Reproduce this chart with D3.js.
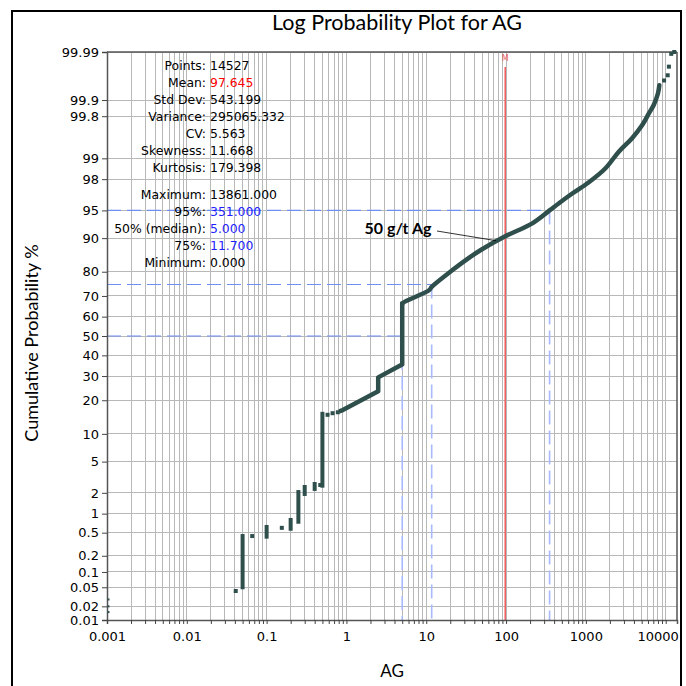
<!DOCTYPE html>
<html><head><meta charset="utf-8">
<script src="https://cdn.jsdelivr.net/npm/d3@7"></script>
<style>
html,body{margin:0;padding:0;background:#fff;}
svg{display:block;}
</style></head>
<body>
<svg id="chart" width="686" height="686"></svg>
<script>
// ---------------- data ----------------
const titleText = "Log Probability Plot for AG";
const xLabel = "AG";
const yLabel = "Cumulative Probability %";
const yTicks = [0.01,0.02,0.05,0.1,0.2,0.5,1,2,5,10,20,30,40,50,60,70,80,90,95,98,99,99.8,99.9,99.99];
const yTickLabels = ["0.01","0.02","0.05","0.1","0.2","0.5","1","2","5","10","20","30","40","50","60","70","80","90","95","98","99","99.8","99.9","99.99"];
const xMajorTicks = [0.001,0.01,0.1,1,10,100,1000,10000];
const xMajorLabels = ["0.001","0.01","0.1","1","10","100","1000","10000"];
const xMax = 13861;

const statLabels = ["Points:","Mean:","Std Dev:","Variance:","CV:","Skewness:","Kurtosis:","Maximum:","95%:","50% (median):","75%:","Minimum:"];
const statValues = ["14527","97.645","543.199","295065.332","5.563","11.668","179.398","13861.000","351.000","5.000","11.700","0.000"];
const statColors = ["#000","#ff0000","#000","#000","#000","#000","#000","#000","#1f1fff","#1f1fff","#1f1fff","#000"];

const meanValue = 97.645;
const percentileValues = [351.0, 5.0, 11.7];
const percentileLevels = [95, 50, 75];

// minimum-value samples plotted at the axis minimum
const minPoints = [[0.001,0.015],[0.001,0.02],[0.001,0.028]];
// isolated samples
const singlePoints = [[0.041,0.042],[0.066,0.44],[0.155,0.6],[0.47,2.55],[0.58,15.1],[0.67,15.6],[0.78,15.9],
  [9550,99.959],[10600,99.968],[10970,99.979],[11740,99.989],[12800,99.99]];
// vertical steps (many samples with identical value)
const stepSegments = [
  [[0.05,0.05],[0.05,0.44]],
  [[0.1,0.43],[0.1,0.62]],
  [[0.2,0.58],[0.2,0.8]],
  [[0.25,0.75],[0.25,2.05]],
  [[0.3,1.93],[0.3,2.4]],
  [[0.4,2.26],[0.4,2.63]],
  [[0.5,2.5],[0.5,15.4]]
];
// continuous part of the distribution (low part, with steps)
const lowCurve = [[0.86,16.4],[0.9,16.6],[2.4,23.2],[2.5,23.5],[2.5,29.4],[4.85,35.2],[5,35.5],[5,66.2]];
// continuous upper tail
const upperCurve = [[5,66.2],[5.1,66.8],[10.9,72.6],[11.7,74],[21.3,80.6],[31.3,84],[50,87.2],[95,90.3],[213,93],
  [351,95],[460,95.9],[675,96.9],[1090,97.8],[1762,98.6],[2585,99.21],[3793,99.52],[5060,99.71],[6130,99.82],
  [7080,99.876],[8010,99.926],[8320,99.949]];

const annotationText = "50 g/t Ag";
const annotationAt = [75, 89.4];

// ---------------- helpers ----------------
function probit(p){
  const a=[-3.969683028665376e+01,2.209460984245205e+02,-2.759285104469687e+02,1.383577518672690e+02,-3.066479806614716e+01,2.506628277459239e+00];
  const b=[-5.447609879822406e+01,1.615858368580409e+02,-1.556989798598866e+02,6.680131188771972e+01,-1.328068155288572e+01];
  const c=[-7.784894002430293e-03,-3.223964580411365e-01,-2.400758277161838e+00,-2.549732539343734e+00,4.374664141464968e+00,2.938163982698783e+00];
  const d=[7.784695709041462e-03,3.224671290700398e-01,2.445134137142996e+00,3.754408661907416e+00];
  const pl=0.02425, ph=1-pl; let q,r;
  if(p<pl){q=Math.sqrt(-2*Math.log(p));return (((((c[0]*q+c[1])*q+c[2])*q+c[3])*q+c[4])*q+c[5])/((((d[0]*q+d[1])*q+d[2])*q+d[3])*q+1);}
  if(p<=ph){q=p-0.5;r=q*q;return (((((a[0]*r+a[1])*r+a[2])*r+a[3])*r+a[4])*r+a[5])*q/(((((b[0]*r+b[1])*r+b[2])*r+b[3])*r+b[4])*r+1);}
  q=Math.sqrt(-2*Math.log(1-p));return -(((((c[0]*q+c[1])*q+c[2])*q+c[3])*q+c[4])*q+c[5])/((((d[0]*q+d[1])*q+d[2])*q+d[3])*q+1);
}

// ---------------- layout ----------------
const L=107, R=677, T=52, B=620;
const svg = d3.select("#chart");
const x = d3.scaleLog().domain([0.001, xMax]).range([L, R]);
const yz = d3.scaleLinear().domain([probit(0.0001), probit(0.9999)]).range([B, T]);
const y = pct => yz(probit(pct/100));

const curveColor = "#2f4f4c";
const gridColor = "#b8b8b8";

// outer frame
svg.append("rect").attr("x",12).attr("y",11).attr("width",669).attr("height",700)
  .attr("fill","none").attr("stroke","#000").attr("stroke-width",2);

// title
svg.append("text").attr("x",397).attr("y",30).attr("text-anchor","middle")
  .style("font-family","Lato, 'Open Sans', sans-serif").style("font-size","21.5px").attr("fill","#000").text(titleText);

// minor x ticks
const xAllTicks = [];
for (let e=-3; e<=4; e++) for (let m=1; m<=9; m++){ const v=m*Math.pow(10,e); if (v<=xMax*1.0001) xAllTicks.push(+v.toPrecision(3)); }

// grid
const grid = svg.append("g");
grid.selectAll("line.vg").data(xAllTicks.filter(v=>v>0.001)).join("line")
  .attr("x1",d=>x(d)).attr("x2",d=>x(d)).attr("y1",T).attr("y2",B)
  .attr("stroke",gridColor).attr("stroke-width",1).attr("shape-rendering","crispEdges");
grid.selectAll("line.hg").data(yTicks).join("line")
  .attr("x1",L).attr("x2",R).attr("y1",d=>y(d)).attr("y2",d=>y(d))
  .attr("stroke",gridColor).attr("stroke-width",1).attr("shape-rendering","crispEdges");

// percentile guide lines
const guides = svg.append("g");
percentileValues.forEach((v,i)=>{
  const lv = percentileLevels[i];
  guides.append("line").attr("x1",L).attr("x2",x(v)).attr("y1",y(lv)).attr("y2",y(lv))
    .attr("stroke","#6f8ff0").attr("stroke-width",1.2).attr("stroke-dasharray","14,6");
  guides.append("line").attr("x1",x(v)).attr("x2",x(v)).attr("y1",y(lv)).attr("y2",B)
    .attr("stroke","#a9b9fb").attr("stroke-width",1.6).attr("stroke-dasharray","14,6");
});

// mean line
svg.append("line").attr("x1",x(meanValue)).attr("x2",x(meanValue)).attr("y1",67).attr("y2",B)
  .attr("stroke","#f05a5a").attr("stroke-width",1.5);
svg.append("text").attr("x",x(meanValue)).attr("y",61).attr("text-anchor","middle")
  .style("font-family","'DejaVu Sans', sans-serif").style("font-size","8px").attr("fill","#f05a5a").text("M");

// axes
const yAxis = d3.axisLeft(yz).tickValues(yTicks.map(p=>probit(p/100)))
  .tickFormat((d,i)=>yTickLabels[i]).tickSize(5).tickPadding(3);
const gy = svg.append("g").attr("transform",`translate(${L},0)`).call(yAxis);
const xAxis = d3.axisBottom(x).tickValues(xAllTicks)
  .tickFormat(d=>{const k=xMajorTicks.findIndex(v=>Math.abs(v-d)/v<1e-6); return k>=0?xMajorLabels[k]:"";})
  .tickSize(4).tickPadding(8);
const gx = svg.append("g").attr("transform",`translate(0,${B})`).call(xAxis);
[gx,gy].forEach(g=>{
  g.select(".domain").attr("stroke","#555").attr("stroke-width",1.5);
  g.selectAll(".tick line").attr("stroke","#444");
  g.selectAll(".tick text").style("font-family","'DejaVu Sans', sans-serif").style("font-size","13px").attr("fill","#000");
});
// keep the last x label inside the frame
gx.selectAll(".tick text").filter(d=>Math.abs(d-10000)<1).attr("dx",-8);
// top & right border
svg.append("line").attr("x1",L).attr("x2",R).attr("y1",T).attr("y2",T).attr("stroke","#555").attr("stroke-width",1.5);
svg.append("line").attr("x1",R).attr("x2",R).attr("y1",T).attr("y2",B).attr("stroke","#555").attr("stroke-width",1.5);

// axis titles
svg.append("text").attr("x",392).attr("y",677).attr("text-anchor","middle")
  .style("font-family","Lato, 'Open Sans', sans-serif").style("font-size","17px").text(xLabel);
svg.append("text").attr("transform","translate(38,343) rotate(-90)").attr("text-anchor","middle")
  .style("font-family","Lato, 'Open Sans', sans-serif").style("font-size","18px").text(yLabel);

// stats
const stats = svg.append("g").style("font-family","'DejaVu Sans', sans-serif").style("font-size","12.4px");
const statY = [65,82,99,116,133,150,167,194,211,228,245,262];
statLabels.forEach((lab,i)=>{
  stats.append("text").attr("x",206).attr("y",statY[i]+4.5).attr("text-anchor","end").attr("fill","#000").text(lab);
  stats.append("text").attr("x",210).attr("y",statY[i]+4.5).attr("fill",statColors[i]).text(statValues[i]);
});

// data
const line = d3.line().x(d=>x(d[0])).y(d=>y(d[1]));
const smooth = d3.line().x(d=>x(d[0])).y(d=>y(d[1])).curve(d3.curveCatmullRom.alpha(0.5));
const dataG = svg.append("g");
dataG.selectAll("path.step").data(stepSegments).join("path")
  .attr("d",line).attr("fill","none").attr("stroke",curveColor).attr("stroke-width",4).attr("stroke-linecap","square");
dataG.append("path").datum(lowCurve).attr("d",line).attr("fill","none")
  .attr("stroke",curveColor).attr("stroke-width",4.5).attr("stroke-linejoin","round").attr("stroke-linecap","square");
dataG.append("path").datum(upperCurve).attr("d",smooth).attr("fill","none")
  .attr("stroke",curveColor).attr("stroke-width",4.5).attr("stroke-linejoin","round").attr("stroke-linecap","round");
dataG.selectAll("rect.pt").data(singlePoints).join("rect")
  .attr("x",d=>x(d[0])-2).attr("y",d=>y(d[1])-2).attr("width",4).attr("height",4).attr("fill",curveColor);
dataG.selectAll("rect.mp").data(minPoints).join("rect")
  .attr("x",d=>x(d[0])+0.5).attr("y",d=>y(d[1])-1).attr("width",2).attr("height",2).attr("fill",curveColor);

// annotation
const ann = svg.append("g");
ann.append("text").attr("x",398).attr("y",234).attr("text-anchor","middle")
  .style("font-family","Lato, 'Open Sans', sans-serif").style("font-size","16px").style("font-weight","bold").text(annotationText);
ann.append("line").attr("x1",437).attr("y1",231).attr("x2",x(annotationAt[0])).attr("y2",y(annotationAt[1]))
  .attr("stroke","#000").attr("stroke-width",0.8);
</script>
</body></html>
